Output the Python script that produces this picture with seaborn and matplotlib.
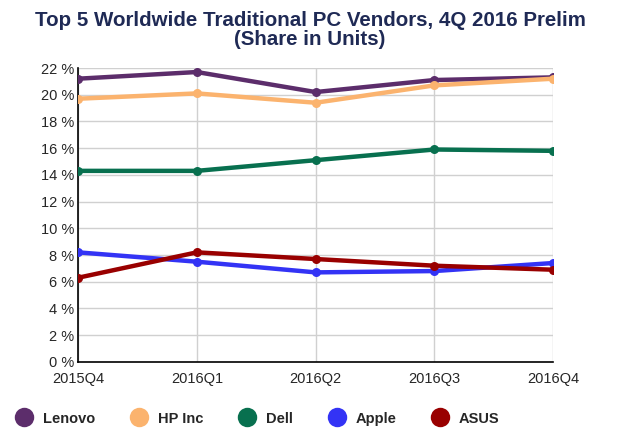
import matplotlib
matplotlib.use("Agg")
import matplotlib.pyplot as plt
from matplotlib.lines import Line2D
import seaborn as sns
import pandas as pd

quarters = ["2015Q4", "2016Q1", "2016Q2", "2016Q3", "2016Q4"]
vendors = ["Lenovo", "HP Inc", "Dell", "Apple", "ASUS"]
lenovo = [21.2, 21.7, 20.2, 21.1, 21.3]
hp = [19.7, 20.1, 19.4, 20.7, 21.2]
dell = [14.3, 14.3, 15.1, 15.9, 15.8]
apple = [8.2, 7.5, 6.7, 6.8, 7.4]
asus = [6.3, 8.2, 7.7, 7.2, 6.9]
colors = ["#5c2d6b", "#fbb36e", "#08704f", "#3333f5", "#990000"]
y_ticks = list(range(0, 23, 2))

series = [lenovo, hp, dell, apple, asus]
rows = []
for v, vals in zip(vendors, series):
    for i, (q, val) in enumerate(zip(quarters, vals)):
        rows.append({"Quarter": q, "idx": i, "Vendor": v, "Share": val})
df = pd.DataFrame(rows)

sns.set_style("white")
plt.rcParams["font.family"] = ["Liberation Sans", "DejaVu Sans"]

fig = plt.figure(figsize=(6.2, 4.36), dpi=100)
ax = fig.add_axes([0.126, 0.170, 0.766, 0.674])

sns.lineplot(data=df, x="idx", y="Share", hue="Vendor", hue_order=vendors,
             palette=colors, linewidth=3.2, marker="o", markersize=6.5,
             markeredgewidth=0, legend=False, ax=ax, sort=False, zorder=3)

ax.set_xlim(0, 4)
ax.set_ylim(0, 22)
ax.set_yticks(y_ticks)
ax.set_yticklabels([f"{t} %" for t in y_ticks], fontsize=10.5)
ax.set_xticks(range(len(quarters)))
ax.set_xticklabels(quarters, fontsize=10.5)
ax.tick_params(axis="y", length=0, pad=3)
ax.tick_params(axis="x", length=0, pad=7)
ax.grid(True, color="#d0d0d0", linewidth=1.0)
ax.set_axisbelow(True)
for s in ["top", "right"]:
    ax.spines[s].set_visible(False)
for s in ["left", "bottom"]:
    ax.spines[s].set_color("black")
    ax.spines[s].set_linewidth(1.2)
ax.set_xlabel("")
ax.set_ylabel("")

fig.text(0.5, 0.975, "Top 5 Worldwide Traditional PC Vendors, 4Q 2016 Prelim\n(Share in Units)",
         ha="center", va="top", fontsize=14.8, fontweight="bold", color="#1f2a55",
         linespacing=1.0)

handles = [Line2D([0], [0], marker="o", linestyle="", markersize=14,
                  markerfacecolor=c, markeredgewidth=0) for c in colors]
fig.legend(handles, vendors, loc="center left", bbox_to_anchor=(0.015, 0.04), ncol=5,
           frameon=False, prop={"weight": "bold", "size": 10.5},
           columnspacing=2.4, handletextpad=0.7, handlelength=1.2, borderaxespad=0)

fig.savefig("out.png", dpi=100)
